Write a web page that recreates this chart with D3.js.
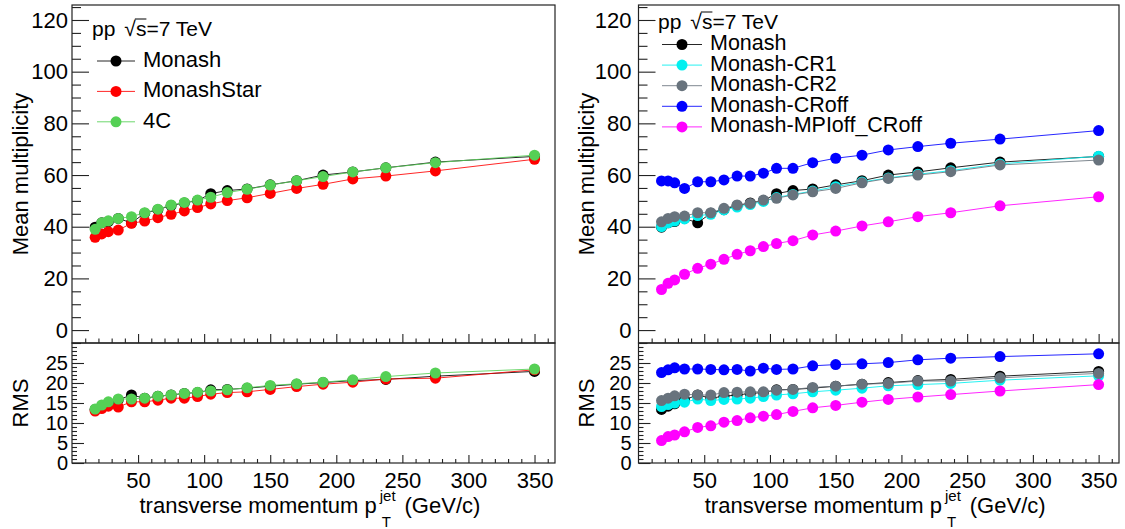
<!DOCTYPE html>
<html><head><meta charset="utf-8">
<script src="https://cdn.jsdelivr.net/npm/d3@7"></script>
<style>
body{margin:0;background:#fff}
svg{display:block}
text{font-family:"Liberation Sans",Arial,Helvetica,sans-serif;fill:#000}
</style></head>
<body><svg id="c" width="1125" height="529"></svg>
<script>
// ---- data ----
const ptBins = [17.5, 22.5, 27.5, 35, 45, 55, 65, 75, 85, 95, 105, 117.5, 132.5, 150, 170, 190, 212.5, 237.5, 275, 350];

const monashMean     = [39.8, 41.5, 42.0, 43.2, 41.5, 45.2, 46.6, 48.2, 49.2, 50.1, 52.8, 54.0, 54.6, 56.2, 57.8, 60.0, 61.2, 62.8, 65.0, 67.2];
const monashStarMean = [35.9, 37.2, 38.1, 38.7, 41.3, 42.2, 43.5, 44.8, 46.1, 47.4, 48.8, 50.1, 51.2, 52.9, 54.8, 56.4, 58.5, 59.6, 61.6, 66.1];
const c4Mean         = [39.0, 41.5, 42.3, 43.2, 43.9, 45.4, 46.8, 48.4, 49.4, 50.3, 51.4, 53.2, 54.5, 56.1, 57.8, 59.4, 61.2, 62.8, 64.8, 67.7];
const cr1Mean        = [40.0, 41.5, 42.2, 43.0, 44.3, 44.8, 46.5, 47.6, 48.6, 49.8, 51.3, 52.5, 53.8, 55.5, 57.3, 58.9, 60.3, 61.7, 64.3, 67.3];
const cr2Mean        = [41.9, 43.2, 43.9, 44.1, 45.4, 45.4, 47.1, 48.4, 49.0, 50.3, 51.0, 52.3, 53.5, 54.8, 57.0, 58.7, 60.0, 61.3, 63.9, 65.8];
const croffMean      = [57.7, 57.7, 57.0, 54.8, 57.4, 57.4, 58.1, 59.6, 59.6, 60.7, 62.6, 62.6, 64.8, 66.5, 67.7, 69.7, 71.0, 72.3, 73.9, 77.2];
const mpioffMean     = [15.7, 18.1, 19.4, 21.6, 23.9, 25.5, 27.4, 29.3, 30.7, 32.3, 33.5, 34.6, 36.8, 38.3, 40.3, 41.9, 43.9, 45.4, 48.1, 51.6];

const monashRms      = [13.4, 14.2, 14.8, 15.8, 17.0, 16.2, 16.7, 17.0, 17.4, 17.6, 18.3, 18.4, 18.7, 19.2, 19.7, 20.1, 20.6, 20.9, 21.7, 22.9];
const monashStarRms  = [13.0, 13.6, 14.2, 14.0, 15.3, 15.3, 15.7, 16.2, 16.2, 16.6, 17.2, 17.6, 17.8, 18.4, 19.1, 19.7, 20.2, 21.0, 21.2, 23.3];
const c4Rms          = [13.5, 14.5, 15.3, 16.0, 16.0, 16.2, 16.7, 17.0, 17.4, 17.7, 18.0, 18.3, 18.8, 19.4, 19.8, 20.2, 20.8, 21.6, 22.5, 23.5];
const cr1Rms         = [14.1, 14.6, 15.0, 15.2, 16.0, 15.6, 15.9, 16.0, 16.2, 16.6, 17.0, 17.3, 17.8, 18.2, 18.7, 19.3, 19.6, 19.9, 20.7, 21.8];
const cr2Rms         = [15.6, 16.2, 16.8, 17.2, 17.0, 17.0, 17.6, 17.7, 17.8, 17.8, 18.2, 18.4, 18.9, 19.2, 19.7, 19.9, 20.5, 20.5, 21.3, 22.4];
const croffRms       = [22.6, 23.3, 23.8, 23.5, 23.5, 23.4, 23.3, 23.4, 23.0, 23.7, 23.4, 23.5, 24.3, 24.6, 24.8, 25.1, 25.8, 26.2, 26.6, 27.3];
const mpioffRms      = [5.6, 6.6, 7.0, 7.8, 8.9, 9.3, 10.2, 10.6, 11.3, 11.7, 12.1, 12.9, 13.8, 14.4, 15.2, 15.9, 16.5, 17.1, 18.0, 19.6];

const xTicks    = [50, 100, 150, 200, 250, 300, 350];
const meanTicks = [0, 20, 40, 60, 80, 100, 120];
const rmsTicks  = [0, 5, 10, 15, 20, 25];

const leftNames  = ["Monash", "MonashStar", "4C"];
const rightNames = ["Monash", "Monash-CR1", "Monash-CR2", "Monash-CRoff", "Monash-MPIoff_CRoff"];
const xTitle = "transverse momentum p";
const yTitleTop = "Mean multiplicity";
const yTitleBot = "RMS";
const energyLabel = "=7 TeV";

// ---- styles ----
const colors = {
  "Monash":"#000000","MonashStar":"#ff0000","4C":"#55d055",
  "Monash-CR1":"#00f0f0","Monash-CR2":"#68737d","Monash-CRoff":"#0000ff","Monash-MPIoff_CRoff":"#ff00ff"
};
const leftSeries = [
  {name:leftNames[0], mean:monashMean, rms:monashRms},
  {name:leftNames[1], mean:monashStarMean, rms:monashStarRms},
  {name:leftNames[2], mean:c4Mean, rms:c4Rms}
];
const rightSeries = [
  {name:rightNames[0], mean:monashMean, rms:monashRms},
  {name:rightNames[1], mean:cr1Mean, rms:cr1Rms},
  {name:rightNames[2], mean:cr2Mean, rms:cr2Rms},
  {name:rightNames[3], mean:croffMean, rms:croffRms},
  {name:rightNames[4], mean:mpioffMean, rms:mpioffRms}
];

const svg = d3.select("#c");
const FONT = '"Liberation Sans",Arial,Helvetica,sans-serif';

function drawPanel(cfg){
  const {x0, x1, series, legend, labelPad} = cfg;
  const x = d3.scaleLinear().domain([0, 365.5]).range([x0, x1]);
  const yT = d3.scaleLinear().domain([-5, 125.8]).range([343, 5]);
  const yB = d3.scaleLinear().domain([0, 30]).range([463, 343]);
  const g = svg.append("g");

  // frames
  g.append("rect").attr("x", x0).attr("y", 5).attr("width", x1-x0).attr("height", 338)
    .attr("fill","none").attr("stroke","#222").attr("stroke-width",1.2);
  g.append("rect").attr("x", x0).attr("y", 343).attr("width", x1-x0).attr("height", 120)
    .attr("fill","none").attr("stroke","#222").attr("stroke-width",1.2);

  function styleAxis(sel, fs){
    sel.select(".domain").remove();
    sel.selectAll(".tick line").attr("stroke","#222").attr("stroke-width",1.1);
    sel.selectAll(".tick text").attr("font-size", fs).attr("font-family", FONT).attr("fill","#000");
  }
  // top y axis
  g.append("g").attr("transform",`translate(${x0},0)`)
    .call(d3.axisLeft(yT).tickValues(d3.range(-5,126,5).filter(v=>v%20!==0)).tickSize(-9).tickFormat(""))
    .call(s=>styleAxis(s,22));
  g.append("g").attr("transform",`translate(${x0},0)`)
    .call(d3.axisLeft(yT).tickValues(meanTicks).tickSize(-17).tickPadding(labelPad))
    .call(s=>styleAxis(s,22));
  // top x axis (no labels)
  g.append("g").attr("transform",`translate(0,343)`)
    .call(d3.axisBottom(x).tickValues(d3.range(10,366,10).filter(v=>v%50!==0)).tickSize(-4.5).tickFormat(""))
    .call(s=>styleAxis(s,21));
  g.append("g").attr("transform",`translate(0,343)`)
    .call(d3.axisBottom(x).tickValues(xTicks).tickSize(-9).tickFormat(""))
    .call(s=>styleAxis(s,21));
  // bottom y axis
  g.append("g").attr("transform",`translate(${x0},0)`)
    .call(d3.axisLeft(yB).tickValues(d3.range(1,30,1).filter(v=>v%5!==0)).tickSize(-5).tickFormat(""))
    .call(s=>styleAxis(s,20));
  g.append("g").attr("transform",`translate(${x0},0)`)
    .call(d3.axisLeft(yB).tickValues(rmsTicks).tickSize(-12).tickPadding(labelPad))
    .call(s=>styleAxis(s,20));
  // bottom x axis
  g.append("g").attr("transform",`translate(0,463)`)
    .call(d3.axisBottom(x).tickValues(d3.range(10,366,10).filter(v=>v%50!==0)).tickSize(-4).tickFormat(""))
    .call(s=>styleAxis(s,21));
  const bx = g.append("g").attr("transform",`translate(0,463)`)
    .call(d3.axisBottom(x).tickValues(xTicks).tickSize(-8))
    .call(s=>styleAxis(s,22));
  bx.selectAll(".tick text").attr("y", 25).attr("dy", "0");

  // series
  const plot = (vals, yS) => {
    series.forEach(s=>{
      const c = colors[s.name];
      const pts = ptBins.map((p,i)=>[p, s[vals][i]]);
      g.append("path").datum(pts)
        .attr("d", d3.line().x(d=>x(d[0])).y(d=>yS(d[1])))
        .attr("fill","none").attr("stroke",c).attr("stroke-width",1).attr("stroke-opacity",0.85);
      g.append("g").selectAll("circle").data(pts).join("circle")
        .attr("cx", d=>x(d[0])).attr("cy", d=>yS(d[1])).attr("r", 5.5).attr("fill", c);
    });
  };
  plot("mean", yT);
  plot("rms", yB);

  // y titles
  const tx = cfg.titleX;
  g.append("text").attr("transform",`translate(${tx},174) rotate(-90)`)
    .attr("text-anchor","middle").attr("font-size",22).text(yTitleTop);
  g.append("text").attr("transform",`translate(${tx},403) rotate(-90)`)
    .attr("text-anchor","middle").attr("font-size",22).text(yTitleBot);

  // x title
  const cx = (x0+x1)/2;
  const t1 = g.append("text").attr("x", cx-174).attr("y", 513).attr("font-size",22).text(xTitle);
  const w1 = t1.node().getComputedTextLength();
  const jx = cx-174+w1+3;
  const tj = g.append("text").attr("x", jx).attr("y", 501).attr("font-size",15).text("jet");
  const wj = tj.node().getComputedTextLength();
  g.append("text").attr("x", jx+2).attr("y", 527).attr("font-size",15).text("T");
  g.append("text").attr("x", jx+wj+9).attr("y", 513).attr("font-size",22).text("(GeV/c)");

  // legend header
  const hx = legend.hx, hy = legend.hy;
  const h1 = g.append("text").attr("x", hx).attr("y", hy).attr("font-size",21).text("pp");
  const wpp = h1.node().getComputedTextLength();
  const sq = g.append("text").attr("x", hx+wpp+9).attr("y", hy).attr("font-size",21).text("\u221A");
  const wsq = sq.node().getComputedTextLength();
  const sx = hx+wpp+9+wsq;
  const st = g.append("text").attr("x", sx).attr("y", hy).attr("font-size",21).text("s");
  const ws = st.node().getComputedTextLength();
  g.append("line").attr("x1", sx-1).attr("x2", sx+ws).attr("y1", hy-17).attr("y2", hy-17)
    .attr("stroke","#000").attr("stroke-width",1);
  g.append("text").attr("x", sx+ws).attr("y", hy).attr("font-size",21).text(energyLabel);

  // legend entries
  series.forEach((s,i)=>{
    const yy = legend.y0 + i*legend.dy;
    const c = colors[s.name];
    g.append("line").attr("x1", legend.lx0).attr("x2", legend.lx1).attr("y1", yy).attr("y2", yy)
      .attr("stroke", c).attr("stroke-width",1).attr("stroke-opacity",0.85);
    g.append("circle").attr("cx", (legend.lx0+legend.lx1)/2).attr("cy", yy).attr("r",5.5).attr("fill",c);
    g.append("text").attr("x", legend.tx).attr("y", yy+legend.tOff).attr("font-size",legend.fs).text(s.name);
  });
}

drawPanel({x0:72, x1:555, series:leftSeries, labelPad:4, titleX:28,
  legend:{hx:92, hy:36, y0:61, dy:30.4, lx0:97, lx1:135, tx:143, tOff:6, fs:22}});
drawPanel({x0:638.5, x1:1119, series:rightSeries, labelPad:7, titleX:594,
  legend:{hx:658, hy:29, y0:44.5, dy:20.6, lx0:662, lx1:702, tx:710, tOff:5.5, fs:21.5}});
</script>
</body></html>
